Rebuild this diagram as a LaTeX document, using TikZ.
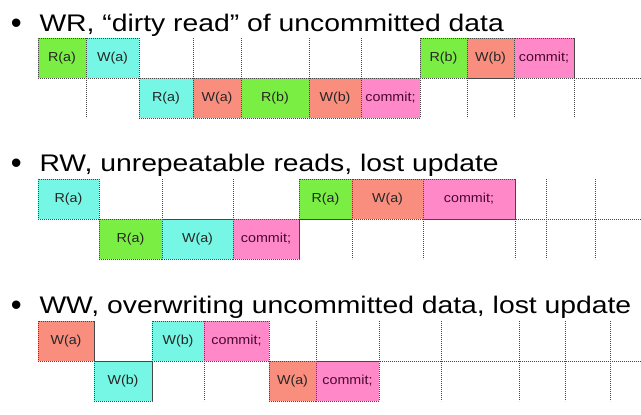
\documentclass[tikz,border=0pt]{standalone}
\usepackage{fontspec}
\setmainfont{Liberation Sans}
\definecolor{rdgreen}{RGB}{122,238,66}
\definecolor{wrcyan}{RGB}{118,246,228}
\definecolor{wrsalmon}{RGB}{250,142,126}
\definecolor{cmpink}{RGB}{255,136,200}
\definecolor{cmtext}{RGB}{72,8,48}
\definecolor{gridc}{RGB}{70,70,70}
\newcommand\wide[1]{\scalebox{1.18}[1]{#1}}
\newcommand\opwide[1]{\scalebox{1.1}[1]{#1}}
\begin{document}
\begin{tikzpicture}[x=1pt,y=-1pt,
  heading/.style={anchor=base west, inner sep=0pt, font=\fontsize{24}{28}\selectfont},
  bulletmark/.style={anchor=base, inner sep=0pt, font=\fontsize{31}{34}\selectfont},
  opbox/.style={anchor=north west, inner sep=0pt, outer sep=0pt, minimum height=40pt,
    draw=gridc, line width=0.7pt, dash pattern=on 0.8pt off 1.2pt,
    font=\fontsize{13}{15}\selectfont, text=black!85},
  readbox/.style={opbox, fill=rdgreen},
  cyanbox/.style={opbox, fill=wrcyan},
  salmonbox/.style={opbox, fill=wrsalmon},
  commitbox/.style={opbox, fill=cmpink, text=cmtext},
  gridline/.style={draw=gridc, line width=0.7pt, dash pattern=on 0.8pt off 1.2pt}]
\useasboundingbox (0,0) rectangle (641,415);
\fill[white] (0,0) rectangle (641,415);

% ---------- WR ----------
\node[bulletmark] (b1) at (16.2,33.8) {•};
\node[heading] (h1) at (39.3,31.7) {\wide{WR, “dirty read” of uncommitted data}};
\node[readbox, minimum width=48pt] (a1) at (38,38) {\opwide{R(a)}};
\node[cyanbox, minimum width=53pt] (a2) at (86,38) {\opwide{W(a)}};
\node[readbox, minimum width=47pt] (a3) at (420,38) {\opwide{R(b)}};
\node[salmonbox, minimum width=47pt] (a4) at (467,38) {\opwide{W(b)}};
\node[commitbox, minimum width=60pt] (a5) at (514,38) {\opwide{commit;}};
\node[cyanbox, minimum width=54pt] (a6) at (139,78) {\opwide{R(a)}};
\node[salmonbox, minimum width=48pt] (a7) at (193,78) {\opwide{W(a)}};
\node[readbox, minimum width=68pt] (a8) at (241,78) {\opwide{R(b)}};
\node[salmonbox, minimum width=52pt] (a9) at (309,78) {\opwide{W(b)}};
\node[commitbox, minimum width=59pt] (a10) at (361,78) {\opwide{commit;}};
\foreach \gx in {86,139,193,241,309,361,420,467,514,574}
  \draw[gridline] (\gx,38) -- (\gx,118);
\draw[gridline] (38,78) -- (641,78);

% ---------- RW ----------
\node[bulletmark] (b2) at (16.2,173.8) {•};
\node[heading] (h2) at (39.3,171.7) {\wide{RW, unrepeatable reads, lost update}};
\node[cyanbox, minimum width=61pt] (c1) at (38,179) {\opwide{R(a)}};
\node[readbox, minimum width=53pt] (c2) at (299,179) {\opwide{R(a)}};
\node[salmonbox, minimum width=71pt] (c3) at (352,179) {\opwide{W(a)}};
\node[commitbox, minimum width=92pt] (c4) at (423,179) {\opwide{commit;}};
\node[readbox, minimum width=63pt] (c5) at (99,219) {\opwide{R(a)}};
\node[cyanbox, minimum width=71pt] (c6) at (162,219) {\opwide{W(a)}};
\node[commitbox, minimum width=66pt] (c7) at (233,219) {\opwide{commit;}};
\foreach \gx in {99,162,233,299,352,423,515,546,595}
  \draw[gridline] (\gx,179) -- (\gx,259);
\draw[gridline] (38,219) -- (641,219);

% ---------- WW ----------
\node[bulletmark] (b3) at (16.2,315.8) {•};
\node[heading] (h3) at (39.3,313.7) {\wide{WW, overwriting uncommitted data, lost update}};
\node[salmonbox, minimum width=56pt] (e1) at (38,321) {\opwide{W(a)}};
\node[cyanbox, minimum width=52pt] (e2) at (152,321) {\opwide{W(b)}};
\node[commitbox, minimum width=65pt] (e3) at (204,321) {\opwide{commit;}};
\node[cyanbox, minimum width=58pt] (e4) at (94,361) {\opwide{W(b)}};
\node[salmonbox, minimum width=47pt] (e5) at (269,361) {\opwide{W(a)}};
\node[commitbox, minimum width=63pt] (e6) at (316,361) {\opwide{commit;}};
\foreach \gx in {94,152,204,269,316,379,441,519,565,610}
  \draw[gridline] (\gx,321) -- (\gx,401);
\draw[gridline] (38,361) -- (641,361);
\end{tikzpicture}
\end{document}
